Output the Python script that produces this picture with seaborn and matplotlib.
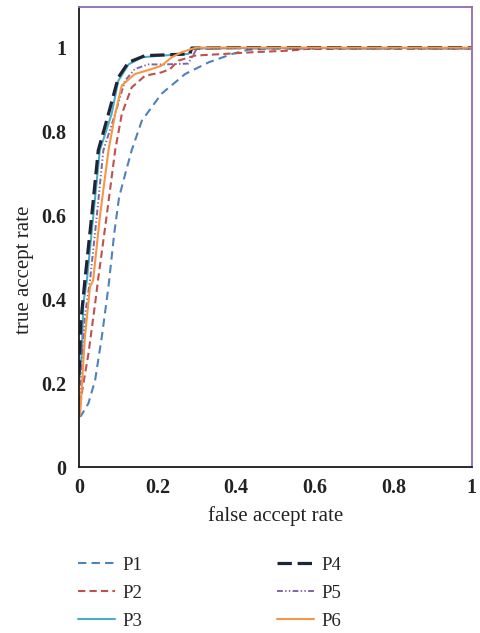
import matplotlib
matplotlib.use("Agg")
import matplotlib.pyplot as plt
import seaborn as sns
import pandas as pd
from matplotlib.ticker import FuncFormatter

sns.set_theme(style="white")
plt.rcParams['font.family'] = ['Liberation Serif', 'DejaVu Serif']

p1_x = [0.0, 0.005, 0.024, 0.041, 0.058, 0.075, 0.09, 0.102, 0.118, 0.134, 0.16, 0.21, 0.27, 0.33, 0.39, 0.43, 0.5, 0.7, 1.0]
p1_y = [0.12, 0.122, 0.152, 0.207, 0.31, 0.43, 0.56, 0.643, 0.70, 0.755, 0.826, 0.89, 0.937, 0.965, 0.985, 0.995, 0.998, 0.998, 0.998]

p2_x = [0.0, 0.007, 0.024, 0.041, 0.049, 0.07, 0.092, 0.109, 0.134, 0.168, 0.21, 0.232, 0.253, 0.295, 0.37, 0.44, 0.537, 0.58, 0.7, 1.0]
p2_y = [0.12, 0.176, 0.27, 0.39, 0.45, 0.596, 0.755, 0.842, 0.905, 0.933, 0.941, 0.949, 0.969, 0.981, 0.985, 0.989, 0.993, 0.997, 0.998, 0.998]

p3_x = [0.0, 0.007, 0.011, 0.02, 0.036, 0.053, 0.083, 0.1, 0.126, 0.16, 0.21, 0.278, 0.29, 0.4, 0.7, 1.0]
p3_y = [0.2, 0.27, 0.39, 0.445, 0.596, 0.755, 0.842, 0.921, 0.96, 0.977, 0.981, 0.985, 0.998, 0.999, 0.999, 0.999]

p4_x = [0.0, 0.005, 0.015, 0.032, 0.049, 0.075, 0.1, 0.126, 0.168, 0.227, 0.282, 0.287, 0.4, 0.7, 1.0]
p4_y = [0.22, 0.35, 0.445, 0.596, 0.755, 0.842, 0.929, 0.965, 0.981, 0.983, 0.985, 0.999, 1.0, 1.0, 1.0]

p5_x = [0.0, 0.008, 0.015, 0.028, 0.045, 0.062, 0.092, 0.117, 0.142, 0.176, 0.219, 0.278, 0.3, 0.4, 0.7, 1.0]
p5_y = [0.12, 0.25, 0.36, 0.445, 0.596, 0.755, 0.842, 0.921, 0.949, 0.96, 0.96, 0.962, 0.998, 0.999, 0.999, 0.999]

p6_x = [0.0, 0.003, 0.015, 0.028, 0.036, 0.053, 0.075, 0.092, 0.109, 0.142, 0.185, 0.21, 0.236, 0.261, 0.287, 0.3, 0.5, 0.7, 1.0]
p6_y = [0.12, 0.128, 0.31, 0.43, 0.445, 0.596, 0.755, 0.842, 0.91, 0.937, 0.949, 0.957, 0.977, 0.989, 0.997, 1.0, 1.0, 1.0, 1.0]

names = ["P1", "P2", "P3", "P4", "P5", "P6"]
xs = [p1_x, p2_x, p3_x, p4_x, p5_x, p6_x]
ys = [p1_y, p2_y, p3_y, p4_y, p5_y, p6_y]

colors = ["#4F81BD", "#C0504D", "#4BACC6", "#1C2539", "#8064A2", "#F79646"]
dashes = [(4, 2.5), (3.5, 2), None, (4.5, 1.8), (3, 1.2, 0.7, 1.2, 0.7, 1.2), None]
widths = [1.5, 1.5, 1.5, 2.3, 1.4, 1.5]

fig = plt.figure(figsize=(4.8, 6.33), dpi=100)
ax = fig.add_axes([0.1646, 0.2622, 0.8184, 0.7268])

for n, x, y, c, d, w in zip(names, xs, ys, colors, dashes, widths):
    df = pd.DataFrame({"x": x, "y": y})
    sns.lineplot(data=df, x="x", y="y", ax=ax, color=c, lw=w,
                 estimator=None, sort=False, legend=False)
    l = ax.lines[-1]
    l.set_label(n)
    if d is not None:
        l.set_dashes(d)

ax.set_xlim(0, 1)
ax.set_ylim(0, 1.097)
ax.set_xticks([0, 0.2, 0.4, 0.6, 0.8, 1.0])
ax.set_yticks([0, 0.2, 0.4, 0.6, 0.8, 1.0])
fmt = FuncFormatter(lambda v, p: f"{v:g}")
ax.xaxis.set_major_formatter(fmt)
ax.yaxis.set_major_formatter(fmt)
for lab in ax.get_xticklabels() + ax.get_yticklabels():
    lab.set_fontweight("bold")
    lab.set_fontsize(14.5)
ax.tick_params(axis="x", length=0, pad=8, colors="#222222")
ax.tick_params(axis="y", length=0, pad=9, colors="#222222")
ax.set_xlabel("false accept rate", fontsize=15, color="#222222")
ax.set_ylabel("true accept rate", fontsize=15, color="#222222")
ax.xaxis.set_label_coords(0.5, -0.085)
ax.yaxis.set_label_coords(-0.114, 0.428)

for s in ["left", "bottom"]:
    ax.spines[s].set_color("#1a1a1a")
    ax.spines[s].set_linewidth(1.3)
for s in ["top", "right"]:
    ax.spines[s].set_color("#8E6BB8")
    ax.spines[s].set_linewidth(1.3)

handles = ax.lines
fig.legend(handles, names, loc="upper left", bbox_to_anchor=(0.1625, 0.121), ncol=2,
           frameon=False, fontsize=13.5, handlelength=1.95, columnspacing=7.2,
           labelspacing=0.58, handletextpad=0.4, borderaxespad=0, borderpad=0)

fig.savefig("out.png", dpi=100)
